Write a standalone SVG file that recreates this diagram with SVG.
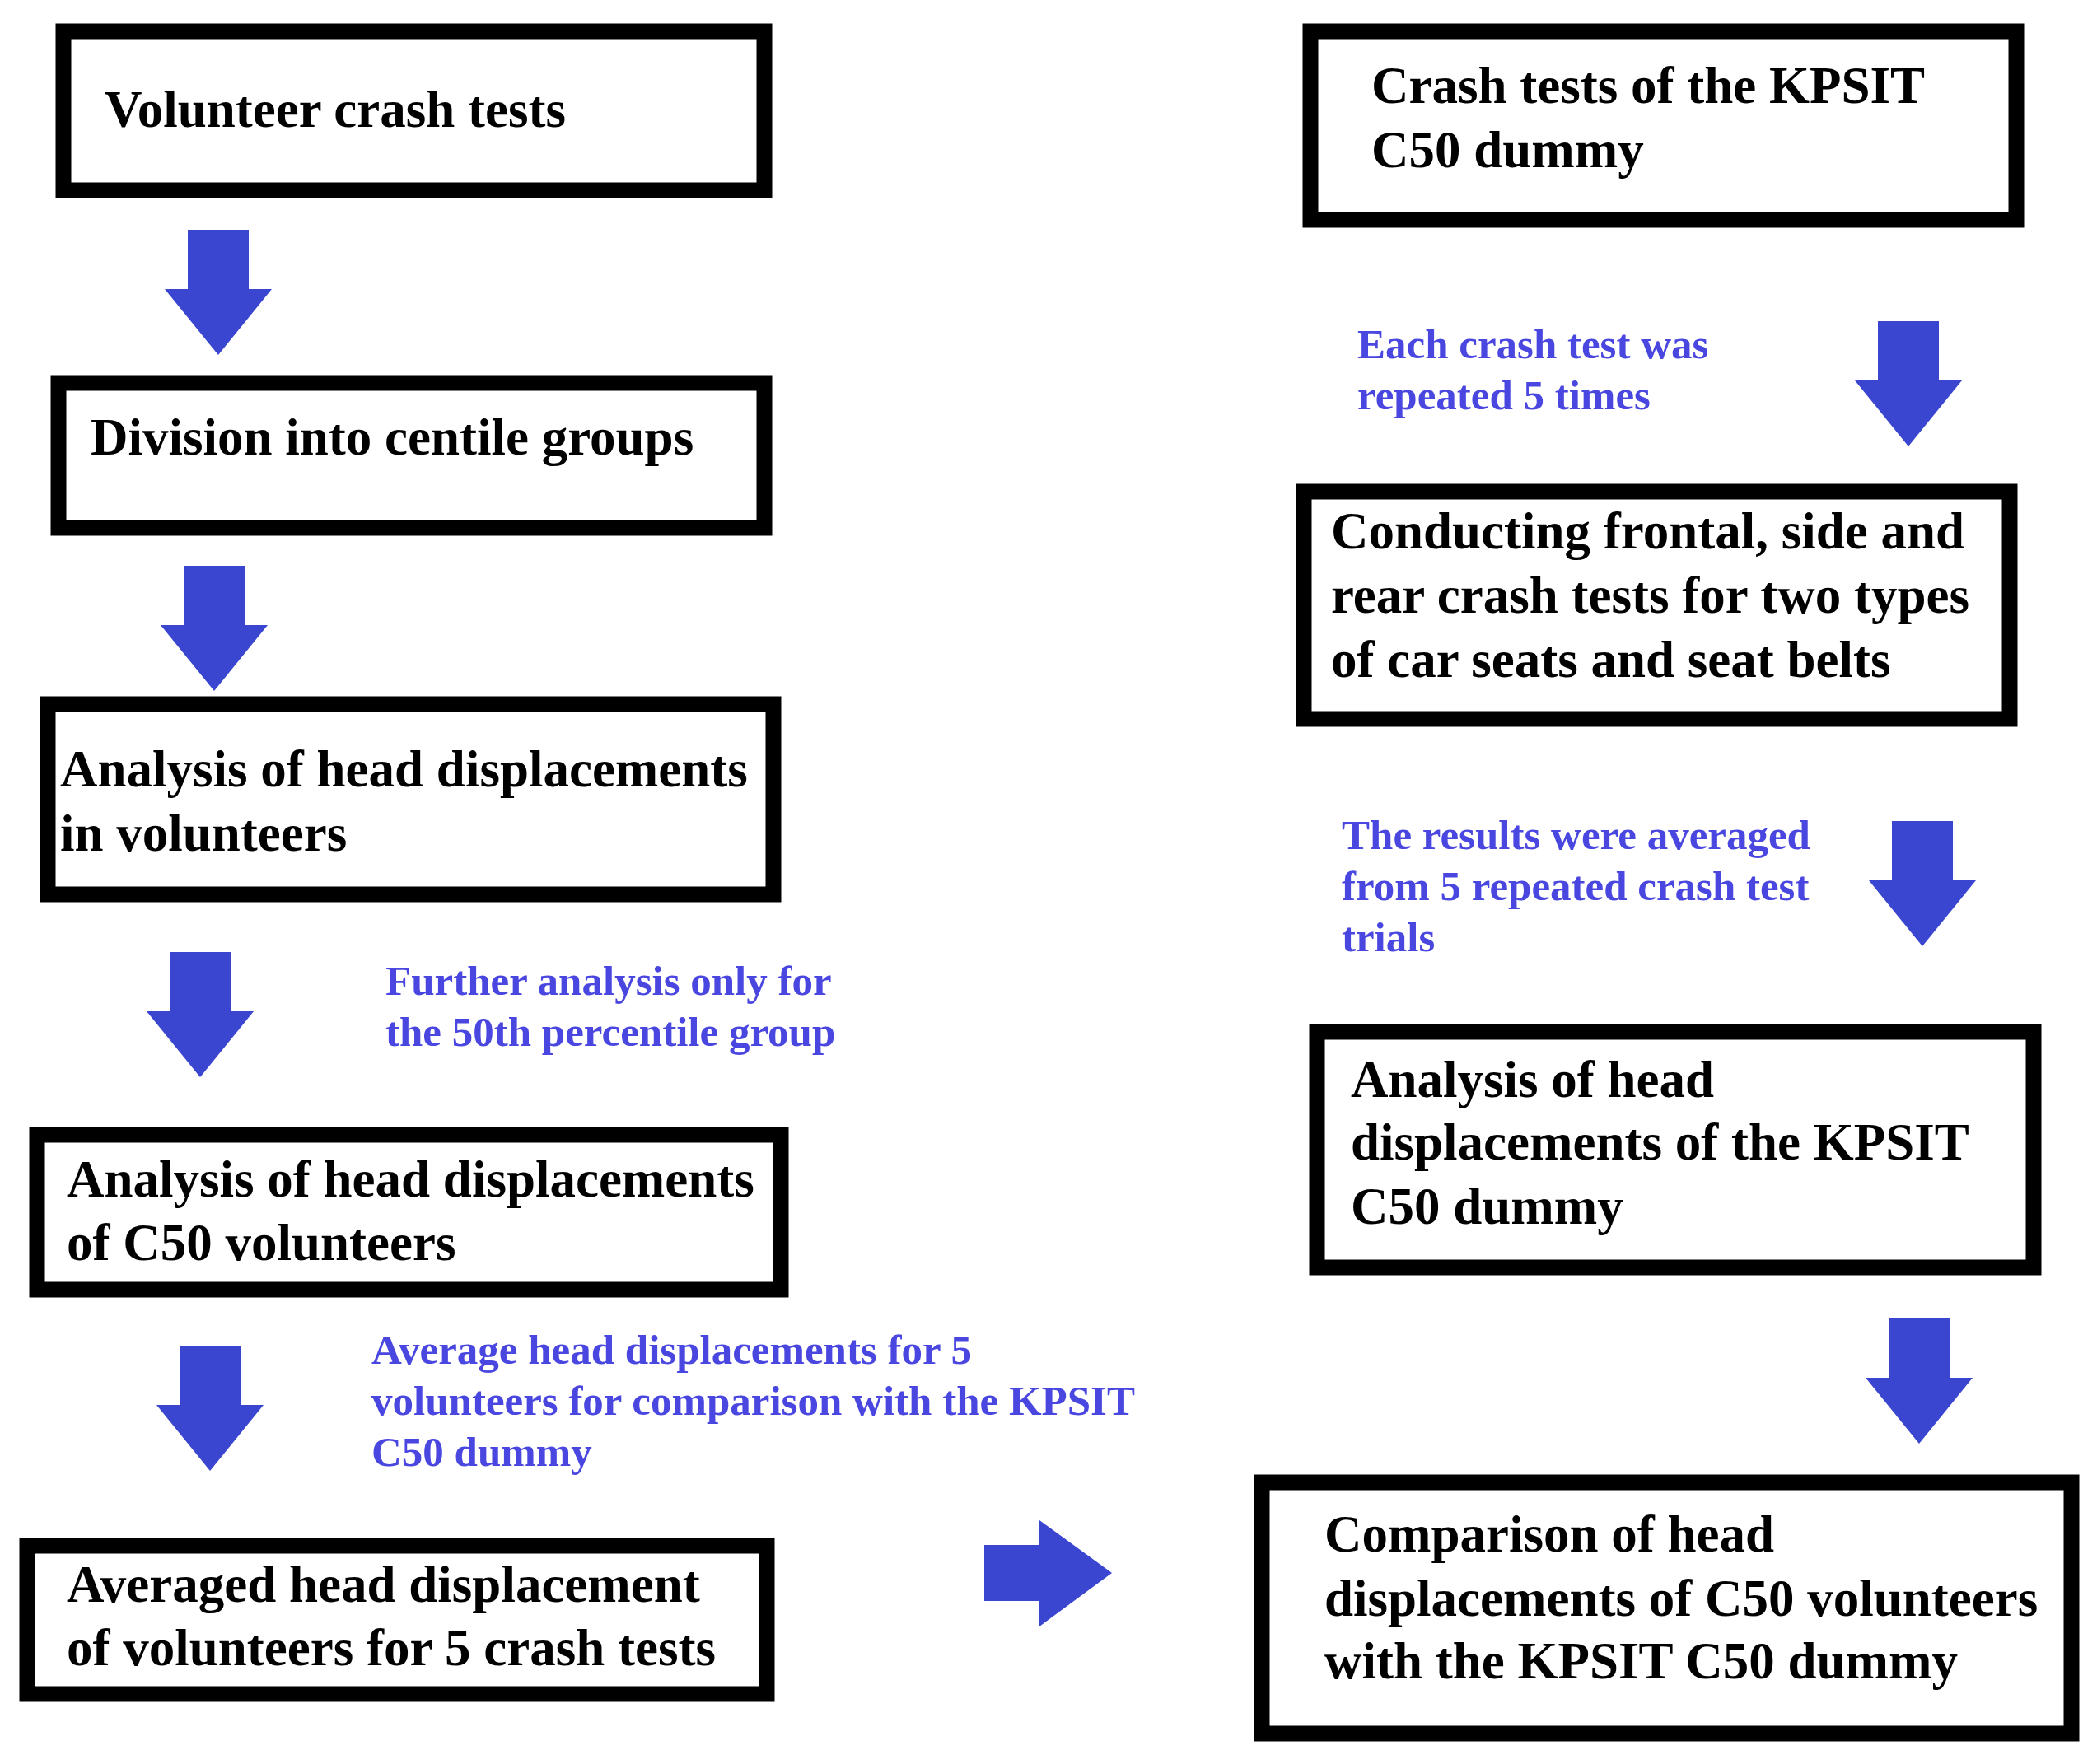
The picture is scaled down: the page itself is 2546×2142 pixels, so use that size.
<svg xmlns="http://www.w3.org/2000/svg" width="2546" height="2142" viewBox="0 0 2546 2142">
<style>
.box{fill:#fff;stroke:#000;stroke-width:19}
.t{font-family:"Liberation Serif","Times New Roman",serif;font-weight:bold;font-size:63px;fill:#000}
.l{font-family:"Liberation Serif","Times New Roman",serif;font-weight:bold;font-size:51px;fill:#4a46e0}
.ar{fill:#3b46d0}
</style>
<defs>
<path id="down" d="M-37,0 H37 V72 H65 L0,152 L-65,72 H-37 Z"/>
</defs>
<rect width="2546" height="2142" fill="#fff"/>
<g id="connectors" class="ar">
<use href="#down" x="265" y="279"/>
<use href="#down" x="260" y="687"/>
<use href="#down" x="243" y="1156"/>
<use href="#down" x="255" y="1634"/>
<use href="#down" x="2317" y="390"/>
<use href="#down" x="2334" y="997"/>
<use href="#down" x="2330" y="1601"/>
<path d="M1195,1876 H1262 V1846 L1350,1910 L1262,1975 V1944 H1195 Z"/>
</g>
<g id="n1"><rect class="box" x="77" y="38" width="851" height="193"/><text class="t" x="127" y="154">Volunteer crash tests</text></g>
<g id="n2"><rect class="box" x="71" y="465" width="857" height="176"/><text class="t" x="110" y="552">Division into centile groups</text></g>
<g id="n3"><rect class="box" x="58" y="855" width="881" height="231"/><text class="t" x="73" y="955">Analysis of head displacements</text><text class="t" x="73" y="1033">in volunteers</text></g>
<g id="n4"><rect class="box" x="45" y="1378" width="903" height="188"/><text class="t" x="81" y="1453">Analysis of head displacements</text><text class="t" x="81" y="1530">of C50 volunteers</text></g>
<g id="n5"><rect class="box" x="33" y="1877" width="898" height="180"/><text class="t" x="81" y="1945">Averaged head displacement</text><text class="t" x="81" y="2022">of volunteers for 5 crash tests</text></g>
<g id="r1"><rect class="box" x="1591" y="38" width="857" height="229"/><text class="t" x="1665" y="125">Crash tests of the KPSIT</text><text class="t" x="1665" y="203">C50 dummy</text></g>
<g id="r2"><rect class="box" x="1583" y="597" width="857" height="276"/><text class="t" x="1616" y="666">Conducting frontal, side and</text><text class="t" x="1616" y="744">rear crash tests for two types</text><text class="t" x="1616" y="822">of car seats and seat belts</text></g>
<g id="r3"><rect class="box" x="1599" y="1253" width="870" height="286"/><text class="t" x="1640" y="1332">Analysis of head</text><text class="t" x="1640" y="1408">displacements of the KPSIT</text><text class="t" x="1640" y="1486">C50 dummy</text></g>
<g id="r4"><rect class="box" x="1532" y="1800" width="983" height="305"/><text class="t" x="1608" y="1884">Comparison of head</text><text class="t" x="1608" y="1962">displacements of C50 volunteers</text><text class="t" x="1608" y="2038">with the KPSIT C50 dummy</text></g>
<g id="labels">
<text class="l" x="468" y="1208">Further analysis only for</text><text class="l" x="468" y="1270">the 50th percentile group</text>
<text class="l" x="451" y="1656">Average head displacements for 5</text><text class="l" x="451" y="1718">volunteers for comparison with the KPSIT</text><text class="l" x="451" y="1780">C50 dummy</text>
<text class="l" x="1648" y="435">Each crash test was</text><text class="l" x="1648" y="497">repeated 5 times</text>
<text class="l" x="1629" y="1031">The results were averaged</text><text class="l" x="1629" y="1093">from 5 repeated crash test</text><text class="l" x="1629" y="1155">trials</text>
</g>
</svg>
